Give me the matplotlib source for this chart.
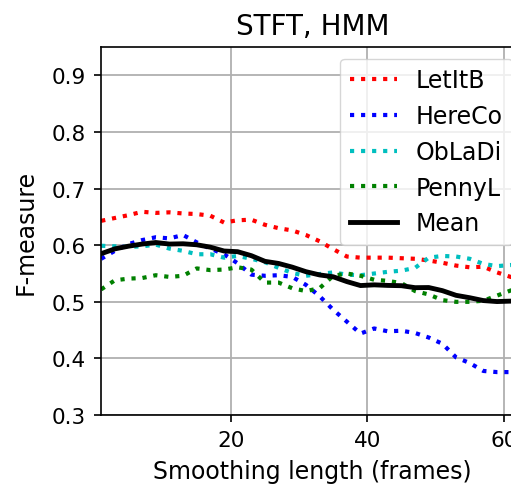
import numpy as np
import matplotlib.pyplot as plt

# smoothing lengths (frames)
frames = np.arange(1, 64, 2)

letitb = [0.643, 0.648, 0.653, 0.659, 0.657, 0.658, 0.656, 0.655, 0.652, 0.640,
          0.644, 0.645, 0.636, 0.630, 0.626, 0.618, 0.607, 0.593, 0.580, 0.578,
          0.578, 0.578, 0.577, 0.576, 0.573, 0.569, 0.564, 0.561, 0.562, 0.552,
          0.544, 0.540]
hereco = [0.576, 0.590, 0.602, 0.609, 0.614, 0.612, 0.618, 0.605, 0.594, 0.584,
          0.568, 0.548, 0.546, 0.547, 0.544, 0.530, 0.510, 0.486, 0.465, 0.444,
          0.453, 0.448, 0.449, 0.445, 0.437, 0.426, 0.402, 0.392, 0.378, 0.376,
          0.376, 0.376]
obladi = [0.599, 0.598, 0.597, 0.598, 0.601, 0.594, 0.590, 0.584, 0.584, 0.578,
          0.581, 0.576, 0.570, 0.560, 0.551, 0.546, 0.549, 0.552, 0.548, 0.547,
          0.550, 0.553, 0.555, 0.560, 0.578, 0.581, 0.580, 0.576, 0.567, 0.563,
          0.565, 0.566]
pennyl = [0.522, 0.538, 0.541, 0.542, 0.547, 0.544, 0.546, 0.559, 0.556, 0.557,
          0.561, 0.557, 0.534, 0.534, 0.524, 0.519, 0.524, 0.546, 0.550, 0.546,
          0.539, 0.537, 0.533, 0.519, 0.513, 0.503, 0.500, 0.500, 0.502, 0.511,
          0.520, 0.525]

songs = ['LetItB', 'HereCo', 'ObLaDi', 'PennyL']
colors = ['r', 'b', 'c', 'g']
mean = np.mean([letitb, hereco, obladi, pennyl], axis=0)

fig = plt.figure(figsize=(5.11, 4.89), dpi=100)
ax = fig.add_axes([0.198, 0.149, 0.828, 0.753])

for name, vals, c in zip(songs, [letitb, hereco, obladi, pennyl], colors):
    ax.plot(frames, vals, ':', color=c, lw=3, label=name)
ax.plot(frames, mean, '-', color='k', lw=3.5, label='Mean')

ax.set_xlim(1, 63)
ax.set_ylim(0.3, 0.95)
ax.set_xticks([20, 40, 60])
ax.set_yticks([0.3, 0.4, 0.5, 0.6, 0.7, 0.8, 0.9])
ax.tick_params(labelsize=15.5, length=5, width=1.2, pad=6)
for s in ax.spines.values():
    s.set_linewidth(1.2)
ax.grid(True, color='#b0b0b0', lw=1.3)
ax.set_xlabel('Smoothing length (frames)', fontsize=17, labelpad=6)
ax.set_ylabel('F-measure', fontsize=17, labelpad=10)
ax.set_title('STFT, HMM', fontsize=20, pad=9)
ax.legend(loc='upper right', fontsize=17)

fig.savefig('out.png', dpi=100)
